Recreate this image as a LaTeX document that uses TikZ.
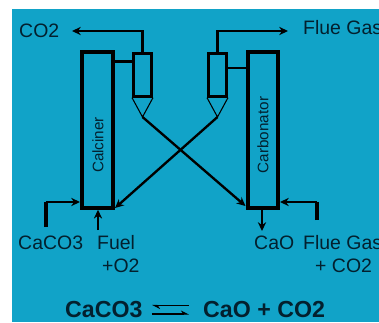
\documentclass[tikz,border=0pt]{standalone}
\usepackage{fontspec}
\setmainfont{Liberation Sans}
\usetikzlibrary{
  arrows.meta,
  positioning,
}
\definecolor{panel}{HTML}{11A3C8}
\definecolor{ink}{HTML}{03202E}
\tikzset{
  >={Stealth[length=7.5pt,width=7pt]},
  vessel/.style={draw=black, line width=3pt, inner sep=0pt, minimum width=0.915cm, minimum height=4.68cm},
  cyclone/.style={draw=black, line width=2.5pt, inner sep=0pt, minimum width=0.54cm, minimum height=1.275cm},
  cone/.style={draw=black, line width=0.9pt},
  pipe/.style={draw=black, line width=2pt},
  feed/.style={draw=black, line width=3pt},
  txt/.style={font=\fontsize{16.6}{18}\selectfont, text=ink, anchor=west, inner sep=0pt},
  vesseltxt/.style={font=\fontsize{13}{15}\selectfont, text=ink, rotate=90, inner sep=0pt},
  eqn/.style={font=\bfseries\fontsize{19.8}{22}\selectfont, text=ink, anchor=west, inner sep=0pt},
}
\begin{document}
\begin{tikzpicture}[x=0.03cm,y=-0.03cm]
  \useasboundingbox (0,0) rectangle (379,322);
  \fill[panel] (12,9) rectangle (379,322);

  % Reactors
  \node[vessel] (calciner) at (97.5,130) {};
  \node[vessel] (carbonator) at (263,130) {};
  \node[vesseltxt] (calcinertxt) at (98,145) {Calciner};
  \node[vesseltxt] (carbonatortxt) at (263,135) {Carbonator};

  % Cyclones
  \node[cyclone] (cycl) at (142.5,75) {};
  \node[cyclone] (cycr) at (217.5,75) {};
  \coordinate (apexl) at (142.5,117);
  \coordinate (apexr) at (217.5,117);
  \draw[cone] (cycl.south west) -- (apexl) -- (cycl.south east);
  \draw[cone] (cycr.south west) -- (apexr) -- (cycr.south east);

  % Links to the cyclones
  \coordinate (linkl) at (120,61.5);
  \coordinate (linkr) at (240,68);
  \draw[pipe] (calciner.east |- linkl) -- (cycl.west |- linkl);
  \draw[pipe] (cycr.east |- linkr) -- (carbonator.west |- linkr);

  % Gas outlets
  \coordinate (co2end) at (72,31);
  \coordinate (flueend) at (288,31);
  \draw[pipe, ->] (cycl.north) |- (co2end);
  \draw[pipe, ->] (cycr.north) |- (flueend);

  % Solids crossing over
  \coordinate (tipl) at (115,208);
  \coordinate (tipr) at (245.5,206);
  \draw[pipe, ->] (apexl) -- (tipr);
  \draw[pipe, ->] (apexr) -- (tipl);

  % Feeds
  \coordinate (cacofoot) at (46,227);
  \coordinate (cacoin) at (80,202);
  \coordinate (fuelfoot) at (98,230);
  \coordinate (caofoot) at (262,231);
  \coordinate (fluefoot) at (317,220);
  \coordinate (fluein) at (280,202);
  \draw[feed] (cacofoot) -- (cacofoot |- cacoin);
  \draw[pipe, ->] (cacofoot |- cacoin) -- (cacoin);
  \draw[pipe, ->] (fuelfoot) -- (fuelfoot |- calciner.south);
  \draw[pipe, ->] (caofoot |- carbonator.south) -- (caofoot);
  \draw[feed] (fluefoot) -- (fluefoot |- fluein);
  \draw[pipe, ->] (fluefoot |- fluein) -- (fluein);

  % Labels
  \node[txt] (co2) at (19,31) {CO2};
  \node[txt] (flue) at (303,28) {Flue Gas};
  \node[txt] (caco) at (18,243) {CaCO3};
  \node[txt] (fuel) at (97,243) {Fuel};
  \node[txt] (otwo) at (102,266) {+O2};
  \node[txt] (cao) at (254,243) {CaO};
  \node[txt] (fluegas) at (303,243) {Flue Gas};
  \node[txt] (plusco) at (315,266) {+ CO2};

  % Reaction
  \node[eqn] (lhs) at (65,310) {CaCO3};
  \node[eqn] (rhs) at (203,310) {CaO + CO2};
  \coordinate (eqa) at (152,305.5);
  \coordinate (eqb) at (189,305.5);
  \coordinate (eqc) at (152,314);
  \coordinate (eqd) at (189,314);
  \draw[line width=0.9pt, -{Stealth[left,length=6pt,width=6pt]}] (eqb) -- (eqa);
  \draw[line width=0.9pt, -{Stealth[left,length=6pt,width=6pt]}] (eqc) -- (eqd);
\end{tikzpicture}
\end{document}
